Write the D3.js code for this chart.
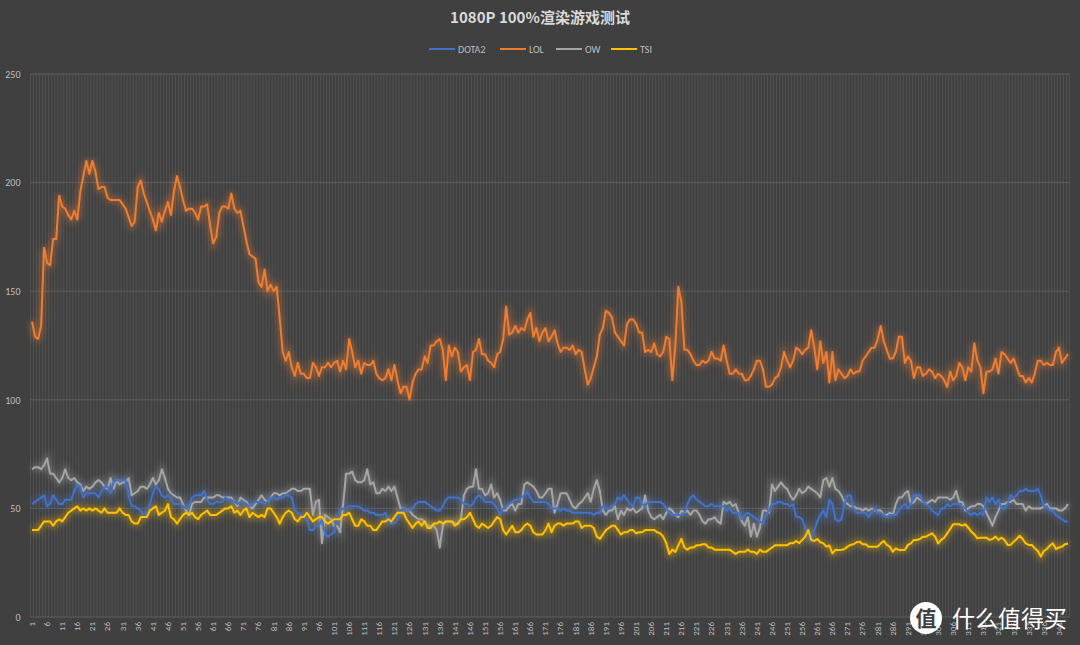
<!DOCTYPE html>
<html>
<head>
<meta charset="utf-8">
<script src="https://cdn.jsdelivr.net/npm/d3@7"></script>
<style>
  html, body { margin: 0; padding: 0; background: #404040; }
  svg { display: block; }
</style>
</head>
<body>
<svg id="chart" width="1080" height="645"></svg>
<script>
// values, index 1..344
var dota2 = [
52,53,54,55,56,51,52,56,54,52,52,54,54,54,58,61,60,55,57,57,
57,57,55,58,60,60,57,62,63,63,63,63,56,51,51,50,49,47,48,52,
57,60,59,56,55,56,55,52,52,52,51,50,51,55,56,56,56,58,54,52,
52,53,53,53,55,54,54,53,52,53,53,52,51,52,53,53,53,52,53,55,
55,54,55,55,56,56,
55,49,48,47,46,45,40,40,42,42,45,38,37,38,39,46,49,50,50,51,
51,51,51,50,49,49,48,48,47,47,47,48,44,43,43,45,49,50,49,49,
50,52,53,53,53,52,51,50,49,49,51,54,55,55,55,55,54,52,52,51,
52,55,56,55,53,53,53,52,50,47,50,51,52,53,54,54,55,56,58,55,
53,53,53,53,53,52,
50,50,50,49,50,49,49,48,48,48,48,48,48,
48,47,48,48,51,50,50,51,52,55,54,56,54,52,51,55,55,52,51,53,
53,53,53,53,52,50,48,47,47,47,47,48,52,55,56,54,53,52,51,51,
52,51,51,51,51,49,50,48,48,48,45,47,48,47,46,45,44,43,47,49,
52,52,53,53,52,52,51,52,46,46,45,41,37,
35,40,44,47,49,46,54,52,45,44,45,52,56,56,50,48,48,48,48,46,
48,50,48,48,47,46,47,47,47,49,51,52,50,52,56,56,56,53,52,51,
49,48,47,50,50,52,51,52,52,52,51,50,48,47,48,47,48,47,55,53,
55,52,54,50,50,52,56,55,56,58,58,59,58,58,58,59,56,51,51,49,
49,47,46,45,44,44
];

var lol = [
136,129,128,134,170,163,162,174,174,194,189,188,185,183,187,183,196,203,210,204,
210,205,197,198,198,193,192,192,192,192,190,188,184,180,182,198,201,195,191,187,
183,178,186,182,187,191,185,196,203,198,192,187,188,188,186,183,189,189,190,180,
172,175,186,189,189,188,195,188,186,187,180,173,167,166,165,154,152,160,150,153,
150,152,138,122,118,122,
115,111,117,112,112,110,110,117,115,111,115,115,117,115,117,118,113,118,114,128,
122,115,118,112,117,116,116,118,112,110,109,110,114,109,116,109,103,106,106,100,
108,112,114,114,120,117,125,125,127,128,123,109,125,120,124,122,113,115,116,109,
122,123,128,121,121,118,117,115,121,122,128,143,130,131,134,131,133,132,137,140,
129,133,127,131,133,127,
129,132,126,122,124,124,123,125,121,123,122,114,107,110,115,120,130,133,141,140,
138,131,129,127,125,135,137,137,135,131,131,122,123,122,126,121,120,122,129,128,
109,125,152,145,123,123,121,118,116,116,118,117,118,122,119,119,118,125,118,112,
112,114,112,112,109,109,111,114,118,118,114,106,106,107,110,111,115,122,118,115,
118,124,123,121,123,124,
132,124,114,127,117,122,108,122,109,114,112,110,111,114,112,113,113,118,120,122,
124,124,128,134,127,123,119,119,122,129,129,117,120,118,110,115,115,111,112,114,
113,110,112,111,109,106,113,109,111,117,115,109,115,113,126,118,115,103,113,113,
114,119,112,122,121,119,117,119,115,111,111,108,110,108,112,118,118,116,117,116,
116,122,124,117,119,121
];

var ow = [
68,69,69,68,70,73,66,66,64,62,64,68,64,63,64,62,61,58,60,59,
60,62,63,62,60,59,64,59,63,61,62,62,64,56,57,58,60,60,59,61,
64,61,63,68,64,59,57,56,55,55,52,49,47,52,53,53,53,55,55,55,
55,56,56,55,55,55,55,53,51,55,54,53,51,50,52,54,56,54,53,55,
57,57,56,57,57,58,
59,59,58,58,59,59,59,47,53,54,34,47,46,45,42,42,39,52,66,66,
67,63,62,62,63,68,61,62,57,57,59,58,60,58,60,55,50,50,49,49,
47,46,45,45,44,42,42,42,40,32,42,44,44,44,43,43,45,56,59,60,
60,68,59,59,56,57,61,55,57,54,49,49,51,52,49,52,52,61,62,61,
60,58,55,55,57,59,
59,48,52,57,57,57,54,51,50,52,53,55,57,53,59,63,58,49,47,49,
49,51,45,49,47,50,49,50,48,49,50,56,49,46,45,46,47,45,48,50,
49,47,46,49,48,49,47,49,49,47,44,43,45,45,46,44,43,53,52,53,
51,52,48,44,42,46,37,43,37,41,49,49,48,61,58,60,62,60,59,56,
54,56,59,57,58,60,
59,58,57,55,63,64,60,64,59,58,56,53,52,51,51,50,50,49,50,49,
50,49,49,49,47,47,48,47,52,55,55,57,58,52,53,55,54,53,52,53,
54,53,55,55,55,55,54,55,58,53,53,49,50,51,51,52,52,51,48,45,
42,46,49,52,52,53,53,54,52,52,52,49,51,50,50,50,50,51,52,50,
50,50,49,49,50,52
];

var tsi = [
40,40,40,42,44,44,44,42,44,45,44,46,48,49,50,51,49,50,49,50,
49,50,49,48,50,48,48,48,48,50,48,47,47,44,43,43,46,46,46,49,
50,51,47,48,49,52,46,45,43,45,47,48,47,48,46,45,47,48,49,47,
47,47,48,49,50,50,51,48,49,47,49,50,46,48,47,46,47,46,50,50,
48,46,43,46,48,49,
48,45,44,46,46,48,46,44,45,46,46,44,43,44,45,45,45,47,47,48,
45,42,42,45,44,42,42,40,40,42,44,44,45,44,46,48,48,48,45,43,
41,43,44,42,44,41,41,43,43,44,43,44,44,44,42,43,45,45,46,48,
45,42,41,43,42,41,42,44,46,45,40,38,40,42,39,39,40,42,43,42,
39,38,38,38,40,43,
39,42,43,43,42,43,43,43,44,44,41,42,42,
42,41,37,36,38,40,41,42,42,40,38,39,39,40,40,38.5,39,39,40,40,
40,40,39,38.5,37,34,29,31,30,33,36,32,31,32,32,33,33,33.5,33.5,32,
32,31,31,31,31,31,31,30,29,30,30,30,31,30,30,29,31,30,30,31,
32,33,33,33,33,33,34,34,35,34,35.5,37,40,
35.5,35,35.9,34.4,33.9,32.4,32.9,29.3,30.9,30.9,30.9,31.3,32.4,33.2,33.5,34.4,34.7,33.5,33.5,32.4,
32.4,32.4,32.4,33.9,35,33.2,32.4,30.1,31.6,30.9,30.9,30.9,33.2,33.9,35.5,35.5,35.9,37,37,37.8,
38.5,37,33.9,35.5,36.5,38.5,40.5,42.7,42.7,42.7,42.1,42.7,41.1,39.3,38.1,36.2,36.5,36.5,36.5,35.5,
35.9,37,35.5,36.5,35.5,33.2,33.2,34.7,35.9,37.4,35.9,33.9,33.2,33.2,31.6,30.4,27.8,30.4,31.3,32.9,
33.9,31.3,32,32.4,33.5,33.8
];

var categories = d3.range(1, lol.length + 1);
var yTicks = [0, 50, 100, 150, 200, 250];
var seriesNames = ["DOTA2", "LOL", "OW", "TSI"];
var seriesColors = ["#4472c4", "#ed7d31", "#a5a5a5", "#ffc000"];
var seriesData = [dota2, lol, ow, tsi];

var svg = d3.select("#chart");
var width = 1080, height = 645;
var margin = { top: 74, right: 10.5, bottom: 28, left: 30.5 };

svg.append("rect")
    .attr("width", width)
    .attr("height", height)
    .attr("fill", "#404040");

var defs = svg.append("defs");
var glow = defs.append("filter")
    .attr("id", "glow")
    .attr("x", "-5%").attr("y", "-20%")
    .attr("width", "110%").attr("height", "140%");
glow.append("feGaussianBlur").attr("stdDeviation", 3.2);

var x = d3.scaleBand()
    .domain(categories)
    .range([margin.left, width - margin.right]);

var y = d3.scaleLinear()
    .domain([0, 250])
    .range([height - margin.bottom, margin.top]);

// vertical gridlines, one per category boundary
var vg = svg.append("g");
categories.forEach(function(c) {
  vg.append("line")
    .attr("x1", x(c)).attr("x2", x(c))
    .attr("y1", y(250)).attr("y2", y(0))
    .attr("stroke", "#575757")
    .attr("stroke-width", 0.8);
});
vg.append("line")
  .attr("x1", width - margin.right).attr("x2", width - margin.right)
  .attr("y1", y(250)).attr("y2", y(0))
  .attr("stroke", "#575757")
  .attr("stroke-width", 0.8);

// horizontal gridlines
svg.append("g")
  .selectAll("line")
  .data(yTicks)
  .enter().append("line")
    .attr("x1", margin.left).attr("x2", width - margin.right)
    .attr("y1", function(d) { return y(d); })
    .attr("y2", function(d) { return y(d); })
    .attr("stroke", "#5e5e5e")
    .attr("stroke-width", 1);

// y axis labels
var yAxis = d3.axisLeft(y).tickValues(yTicks).tickSize(0).tickPadding(10);
var yg = svg.append("g")
    .attr("transform", "translate(" + margin.left + ",0)")
    .call(yAxis);
yg.select(".domain").remove();
yg.selectAll("text")
    .attr("fill", "#bfbfbf")
    .style("font-family", "Calibri, 'Liberation Sans', 'Noto Sans', sans-serif")
    .style("font-size", "10px");

// x axis labels, every fifth category
var xAxis = d3.axisBottom(x)
    .tickValues(categories.filter(function(d) { return (d - 1) % 5 === 0; }))
    .tickSize(0);
var xg = svg.append("g")
    .attr("transform", "translate(0," + y(0) + ")")
    .call(xAxis);
xg.select(".domain").remove();
xg.selectAll("text")
    .attr("fill", "#bfbfbf")
    .attr("transform", "rotate(-90)")
    .attr("text-anchor", "end")
    .attr("dx", "-5px")
    .attr("dy", "-0.5em")
    .attr("x", 0)
    .attr("y", 0)
    .style("font-family", "Calibri, 'Liberation Sans', 'Noto Sans', sans-serif")
    .style("font-size", "9px");
xg.selectAll(".tick text")
    .attr("dy", "0.32em");

var line = d3.line()
    .x(function(d, i) { return x(categories[i]) + x.bandwidth() / 2; })
    .y(function(d) { return y(d); });

// glow first, then the crisp lines
[1, 2, 0, 3].forEach(function(s) {
  svg.append("path")
    .datum(seriesData[s])
    .attr("d", line)
    .attr("fill", "none")
    .attr("stroke", seriesColors[s])
    .attr("stroke-width", 5)
    .attr("stroke-opacity", 0.45)
    .attr("filter", "url(#glow)");
});
[1, 2, 0, 3].forEach(function(s) {
  svg.append("path")
    .datum(seriesData[s])
    .attr("d", line)
    .attr("fill", "none")
    .attr("stroke", seriesColors[s])
    .attr("stroke-width", 2)
    .attr("stroke-linejoin", "round");
});

// title
svg.append("text")
    .attr("x", 540)
    .attr("y", 23)
    .attr("text-anchor", "middle")
    .attr("fill", "#d9d9d9")
    .style("font-family", "'Noto Sans CJK SC', 'Noto Sans', sans-serif")
    .style("font-weight", "bold")
    .style("font-size", "15px")
    .text("1080P 100%渲染游戏测试");

// legend
var legendX = [429, 500, 556, 611];
var lg = svg.append("g");
seriesNames.forEach(function(n, i) {
  lg.append("line")
    .attr("x1", legendX[i]).attr("x2", legendX[i] + 26)
    .attr("y1", 49).attr("y2", 49)
    .attr("stroke", seriesColors[i])
    .attr("stroke-width", 2);
  lg.append("text")
    .attr("x", legendX[i] + 29)
    .attr("y", 52.5)
    .attr("fill", "#bfbfbf")
    .style("font-family", "Calibri, 'Liberation Sans', 'Noto Sans', sans-serif")
    .style("font-size", "10px")
    .text(n);
});

// watermark
var wm = svg.append("g");
wm.append("circle")
    .attr("cx", 926).attr("cy", 618).attr("r", 16)
    .attr("fill", "#ffffff");
wm.append("text")
    .attr("x", 926).attr("y", 626)
    .attr("text-anchor", "middle")
    .attr("fill", "#404040")
    .style("font-family", "'Noto Sans CJK SC', sans-serif")
    .style("font-weight", "bold")
    .style("font-size", "21px")
    .text("值");
wm.append("text")
    .attr("x", 952).attr("y", 627)
    .attr("fill", "#ffffff")
    .style("font-family", "'Noto Sans CJK SC', sans-serif")
    .style("font-size", "23px")
    .text("什么值得买");
</script>
</body>
</html>
